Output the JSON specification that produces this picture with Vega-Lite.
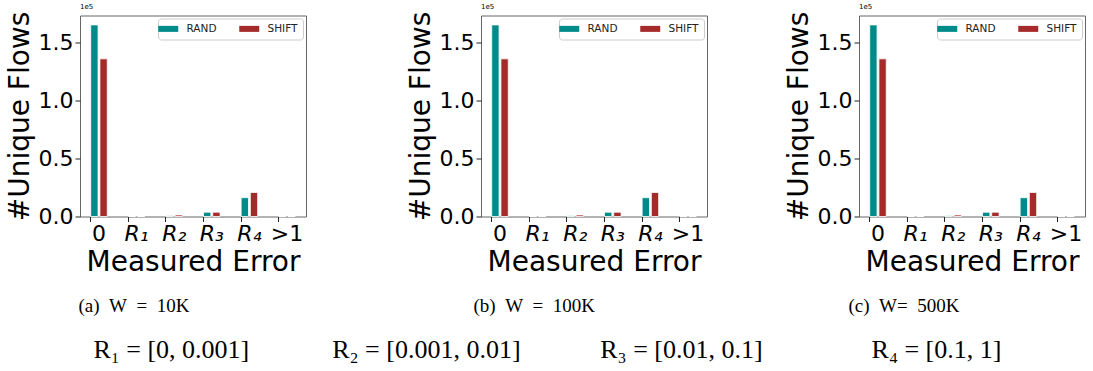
{
  "$schema": "https://vega.github.io/schema/vega-lite/v6.json",
  "padding": {"left": 5, "top": 2.5, "right": 0, "bottom": 0},
  "datasets": {
    "flows": [
      {"error": "0", "method": "RAND", "flows": 164900},
      {"error": "0", "method": "SHIFT", "flows": 135700},
      {"error": "R₁", "method": "RAND", "flows": 0},
      {"error": "R₁", "method": "SHIFT", "flows": 0},
      {"error": "R₂", "method": "RAND", "flows": 600},
      {"error": "R₂", "method": "SHIFT", "flows": 1300},
      {"error": "R₃", "method": "RAND", "flows": 3700},
      {"error": "R₃", "method": "SHIFT", "flows": 3700},
      {"error": "R₄", "method": "RAND", "flows": 16200},
      {"error": "R₄", "method": "SHIFT", "flows": 20700},
      {"error": ">1", "method": "RAND", "flows": 0},
      {"error": ">1", "method": "SHIFT", "flows": 0}
    ],
    "captions": [
      {"panel": "a", "caption": "(a)\u2002W\u2002=\u200210K"},
      {"panel": "b", "caption": "(b)\u2002W\u2002=\u2002100K"},
      {"panel": "c", "caption": "(c)\u2002W=\u2002500K"}
    ],
    "ranges": [
      {"range": "R1", "label": "R₁ = [0, 0.001]"},
      {"range": "R2", "label": "R₂ = [0.001, 0.01]"},
      {"range": "R3", "label": "R₃ = [0.01, 0.1]"},
      {"range": "R4", "label": "R₄ = [0.1, 1]"}
    ]
  },
  "vconcat": [
    {
      "hconcat": [
        {
          "data": {"name": "flows"},
          "width": 226, "height": 201,
          "title": {"text": "1e5", "anchor": "start", "frame": "group", "fontSize": 7, "fontWeight": "normal", "offset": 1},
          "mark": {"type": "bar", "stroke": "white", "strokeWidth": 0.8},
          "encoding": {
            "x": {"field": "error", "type": "nominal", "sort": ["0", "R₁", "R₂", "R₃", "R₄", ">1"],
                  "scale": {"paddingInner": 0.56, "paddingOuter": 0.285},
                  "axis": {"title": "Measured Error", "bandPosition": 0, "labelAngle": 0,
                           "labelFontStyle": {"condition": {"test": "indexof(datum.value, 'R') >= 0", "value": "italic"}, "value": "normal"}}},
            "xOffset": {"field": "method", "type": "nominal", "sort": ["RAND", "SHIFT"], "scale": {"paddingInner": 0.2, "paddingOuter": 0}},
            "y": {"field": "flows", "type": "quantitative", "scale": {"domain": [0, 173000], "nice": false},
                  "axis": {"title": "#Unique Flows", "values": [0, 50000, 100000, 150000], "labelExpr": "format(datum.value / 100000, '.1f')"}},
            "color": {"field": "method", "type": "nominal", "scale": {"domain": ["RAND", "SHIFT"], "range": ["#008B8B", "#A52A2A"]}}
          }
        },
        {
          "hconcat": [
            {
              "data": {"name": "flows"},
              "width": 226, "height": 201,
              "title": {"text": "1e5", "anchor": "start", "frame": "group", "fontSize": 7, "fontWeight": "normal", "offset": 1},
              "mark": {"type": "bar", "stroke": "white", "strokeWidth": 0.8},
              "encoding": {
                "x": {"field": "error", "type": "nominal", "sort": ["0", "R₁", "R₂", "R₃", "R₄", ">1"],
                      "scale": {"paddingInner": 0.56, "paddingOuter": 0.285},
                      "axis": {"title": "Measured Error", "bandPosition": 0, "labelAngle": 0,
                               "labelFontStyle": {"condition": {"test": "indexof(datum.value, 'R') >= 0", "value": "italic"}, "value": "normal"}}},
                "xOffset": {"field": "method", "type": "nominal", "sort": ["RAND", "SHIFT"], "scale": {"paddingInner": 0.2, "paddingOuter": 0}},
                "y": {"field": "flows", "type": "quantitative", "scale": {"domain": [0, 173000], "nice": false},
                      "axis": {"title": "#Unique Flows", "values": [0, 50000, 100000, 150000], "labelExpr": "format(datum.value / 100000, '.1f')"}},
                "color": {"field": "method", "type": "nominal", "scale": {"domain": ["RAND", "SHIFT"], "range": ["#008B8B", "#A52A2A"]}}
              }
            },
            {
              "data": {"name": "flows"},
              "width": 226, "height": 201,
              "title": {"text": "1e5", "anchor": "start", "frame": "group", "fontSize": 7, "fontWeight": "normal", "offset": 1},
              "mark": {"type": "bar", "stroke": "white", "strokeWidth": 0.8},
              "encoding": {
                "x": {"field": "error", "type": "nominal", "sort": ["0", "R₁", "R₂", "R₃", "R₄", ">1"],
                      "scale": {"paddingInner": 0.56, "paddingOuter": 0.285},
                      "axis": {"title": "Measured Error", "bandPosition": 0, "labelAngle": 0,
                               "labelFontStyle": {"condition": {"test": "indexof(datum.value, 'R') >= 0", "value": "italic"}, "value": "normal"}}},
                "xOffset": {"field": "method", "type": "nominal", "sort": ["RAND", "SHIFT"], "scale": {"paddingInner": 0.2, "paddingOuter": 0}},
                "y": {"field": "flows", "type": "quantitative", "scale": {"domain": [0, 173000], "nice": false},
                      "axis": {"title": "#Unique Flows", "values": [0, 50000, 100000, 150000], "labelExpr": "format(datum.value / 100000, '.1f')"}},
                "color": {"field": "method", "type": "nominal", "scale": {"domain": ["RAND", "SHIFT"], "range": ["#008B8B", "#A52A2A"]}}
              }
            }
          ],
          "spacing": 76,
          "resolve": {"scale": {"color": "independent"}, "legend": {"color": "independent"}}
        }
      ],
      "spacing": 99,
      "resolve": {"scale": {"color": "independent"}, "legend": {"color": "independent"}}
    },
    {
      "hconcat": [
        {
          "data": {"name": "captions"},
          "transform": [{"filter": "datum.panel == 'a'"}],
          "width": 108, "height": 20,
          "view": {"stroke": null},
          "mark": {"type": "text", "font": "Liberation Serif", "fontSize": 19, "color": "black"},
          "encoding": {"text": {"field": "caption", "type": "nominal"}}
        },
        {
          "data": {"name": "captions"},
          "transform": [{"filter": "datum.panel == 'b'"}],
          "width": 567, "height": 20,
          "view": {"stroke": null},
          "mark": {"type": "text", "font": "Liberation Serif", "fontSize": 19, "color": "black", "align": "left"},
          "encoding": {"text": {"field": "caption", "type": "nominal"}}
        },
        {
          "data": {"name": "captions"},
          "transform": [{"filter": "datum.panel == 'c'"}],
          "width": 183, "height": 20,
          "view": {"stroke": null},
          "mark": {"type": "text", "font": "Liberation Serif", "fontSize": 19, "color": "black", "align": "left"},
          "encoding": {"text": {"field": "caption", "type": "nominal"}}
        }
      ],
      "spacing": 0
    },
    {
      "data": {"name": "ranges"},
      "width": 1010, "height": 32,
      "view": {"stroke": null},
      "mark": {"type": "text", "font": "Liberation Serif", "fontSize": 26, "color": "black"},
      "encoding": {
        "x": {"field": "range", "type": "nominal", "sort": null, "scale": {"type": "point", "padding": 0.48, "align": 0.373}, "axis": null},
        "text": {"field": "label", "type": "nominal"}
      }
    }
  ],
  "spacing": 18,
  "config": {
    "font": "DejaVu Sans",
    "view": {"stroke": "#666", "strokeWidth": 1},
    "axis": {
      "domain": false,
      "grid": false,
      "tickSize": 5,
      "tickColor": "#222",
      "labelFontSize": 22,
      "labelColor": "black",
      "labelFont": "DejaVu Sans",
      "titleFontSize": 28,
      "titleFontWeight": "normal",
      "titleColor": "black",
      "titleFont": "DejaVu Sans",
      "labelPadding": 2,
      "titlePadding": 4
    },
    "legend": {
      "orient": "top-right",
      "offset": 3,
      "title": null,
      "direction": "horizontal",
      "columns": 2,
      "fillColor": "white",
      "strokeColor": "#cccccc",
      "cornerRadius": 3,
      "padding": 5,
      "labelFontSize": 10.5,
      "labelColor": "#222",
      "symbolType": "M-2,-0.6H2V0.6H-2Z",
      "symbolSize": 100,
      "symbolStrokeWidth": 0,
      "symbolOpacity": 1,
      "labelOffset": 13,
      "columnPadding": 22
    }
  }
}
